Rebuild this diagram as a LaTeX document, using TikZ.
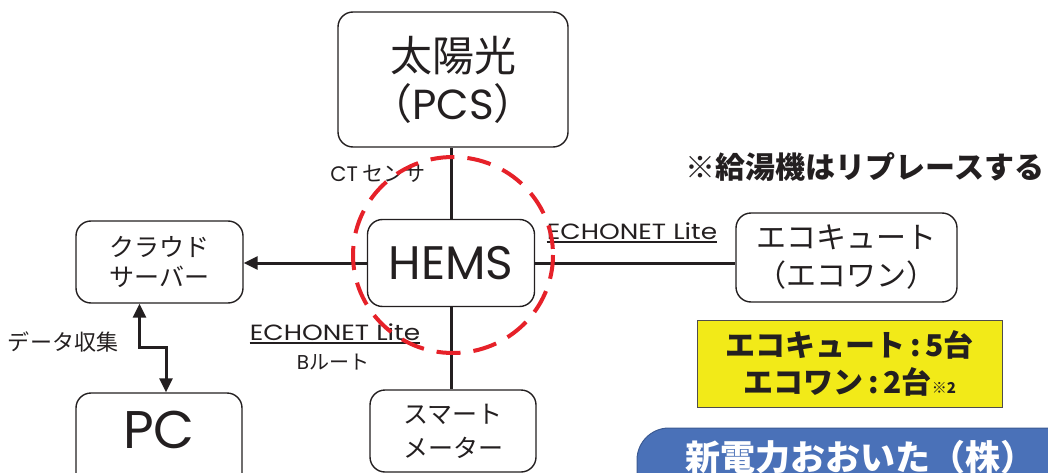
\documentclass[tikz,border=0pt]{standalone}
\usepackage{fontspec}
\setmainfont{Noto Sans CJK JP}
\newfontfamily\latinface{Poppins}
\usetikzlibrary{arrows.meta,calc}
\definecolor{ink}{HTML}{231F20}
\definecolor{hemsred}{HTML}{E62129}
\definecolor{tagyellow}{HTML}{F2EA18}
\definecolor{corpblue}{HTML}{4A71B8}
\newcommand{\lat}[1]{{\latinface #1}}
\newcommand{\widelat}[1]{\scalebox{1.2}[1]{\latinface #1}}
\begin{document}
\begin{tikzpicture}[x=1pt,y=-1pt,
  box/.style={draw=ink,line width=1.4pt,rounded corners=15pt,fill=white,align=center,text=ink,inner sep=0pt},
  conn/.style={draw=ink,line width=3pt},
  lbl/.style={text=ink,inner sep=0pt},
  >={Triangle[length=14pt,width=13pt]}
]
\useasboundingbox (0,0) rectangle (1048,473);
\clip (0,0) rectangle (1048,473);

% boxes
\node[box,minimum width=230pt,minimum height=135pt,font=\fontsize{42}{48}\selectfont] (pcs) at (453,79.5) {太陽光\\（\lat{PCS}）};
\node[box,minimum width=167pt,minimum height=87pt,font=\fontsize{47}{52}\selectfont] (hems) at (451,263) {\lat{HEMS}};
\node[box,minimum width=166pt,minimum height=82pt,font=\fontsize{25}{34}\selectfont] (meter) at (453,431) {スマート\\メーター};
\node[box,minimum width=221pt,minimum height=89pt,font=\fontsize{30}{38}\selectfont] (eco) at (846.5,257.5) {エコキュート\\（エコワン）};
\node[box,minimum width=167pt,minimum height=82pt,font=\fontsize{25}{30}\selectfont] (cloud) at (159.5,262) {クラウド\\サーバー};
\node[box,minimum width=166pt,minimum height=120pt] (pc) at (159,453) {};
\node[lbl,font=\fontsize{53}{56}\selectfont] (pctext) at (159,430) {\lat{PC}};

% connectors
\draw[conn] (hems.north) -- (hems.north |- pcs.south);
\draw[conn] (hems.east) -- (hems.east -| eco.west);
\draw[conn] (hems.south) -- (hems.south |- meter.north);
\draw[conn,->] (hems.west) -- (hems.west -| cloud.east);
\coordinate (bend) at (166,347);
\draw[conn,<->] ([xshift=-20pt]cloud.south) |- (bend) -- (bend |- pc.north);

% labels
\node[lbl,font=\fontsize{21}{24}\selectfont] (ct) at (378,174) {\lat{CT} センサ};
\node[lbl,anchor=base,font=\fontsize{22}{24}\selectfont] (echr) at (632,239) {\widelat{ECHONET Lite}};
\draw[ink,line width=1.5pt] ([yshift=-3pt]echr.base west) -- ([yshift=-3pt]echr.base east);
\node[lbl,anchor=base,font=\fontsize{22}{24}\selectfont] (echl) at (335,340) {\widelat{ECHONET Lite}};
\draw[ink,line width=1.5pt] ([yshift=-3pt]echl.base west) -- ([yshift=-3pt]echl.base east);
\node[lbl,font=\fontsize{20}{24}\selectfont] (broute) at (333,362) {\lat{B}ルート};
\node[lbl,font=\fontsize{22}{24}\selectfont] (collect) at (63,342) {データ収集};
\node[lbl,font=\bfseries\fontsize{30}{36}\selectfont] (note) at (865,167) {※給湯機はリプレースする};

% yellow tag
\node[draw=ink!80,line width=1pt,fill=tagyellow,minimum width=305pt,minimum height=87pt,align=center,text=ink,inner sep=0pt,font=\bfseries\fontsize{30}{37}\selectfont] (count) at (849.5,363.5)
  {エコキュート\,:\,5台\\エコワン\,:\,2台{\fontsize{15}{18}\selectfont ※2}};

% company badge
\node[draw=corpblue!80!black,line width=1pt,fill=corpblue,rounded corners=32pt,minimum width=443pt,minimum height=92pt,inner sep=0pt] (corpbox) at (858.5,474) {};
\node[text=white,font=\bfseries\fontsize{35}{40}\selectfont,inner sep=0pt] (corp) at (860,457) {新電力おおいた（株）};

% red dashed circle
\draw[hemsred,line width=4pt,dash pattern=on 24pt off 13pt] (453,255) ellipse (100 and 98);
\end{tikzpicture}
\end{document}
